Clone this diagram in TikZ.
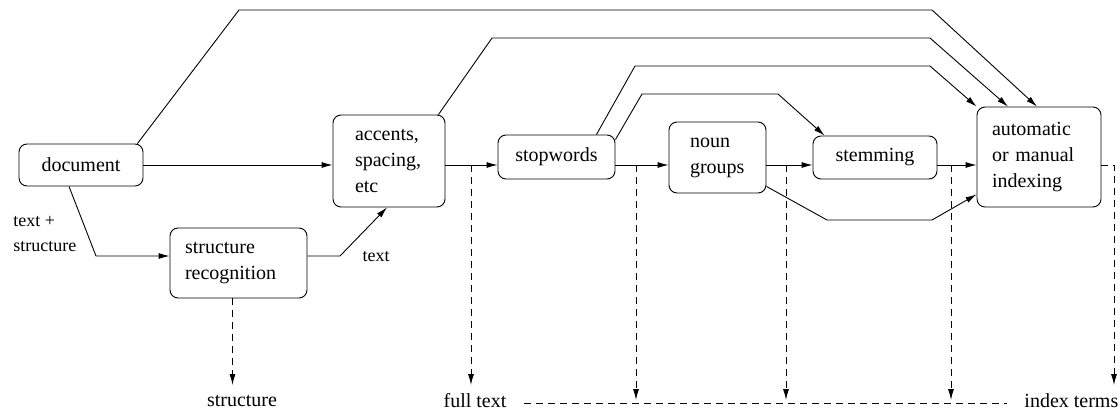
\documentclass[tikz,border=0pt]{standalone}
\usepackage{fontspec}
\setmainfont{Liberation Serif}
\usetikzlibrary{arrows.meta}
\begin{document}
\begin{tikzpicture}[x=1pt,y=-1pt, line width=0.9pt,
  box/.style={draw, rounded corners=8pt, font=\fontsize{20}{26}\selectfont, inner sep=0pt},
  arr/.style={-{Latex[length=11pt,width=6pt]}},
  darr/.style={arr, dash pattern=on 7pt off 5pt},
  lbl/.style={font=\fontsize{18}{25}\selectfont, inner sep=0pt},
  outlbl/.style={font=\fontsize{20}{24}\selectfont, inner sep=0pt}]
\useasboundingbox (0,0) rectangle (1120,412);
% boxes
\node[box, minimum width=124pt, minimum height=42pt] (doc) at (81,165) {document};
\node[box, minimum width=112pt, minimum height=92pt, align=left, text width=68pt, inner xsep=22pt] (acc) at (389,161) {accents,\\spacing,\\etc};
\node[box, minimum width=137pt, minimum height=70pt, align=left, text width=107pt, inner xsep=15pt] (str) at (238.5,263) {structure\\recognition};
\node[box, minimum width=117pt, minimum height=44pt] (stop) at (556.5,157) {stopwords};
\node[box, minimum width=97pt, minimum height=71pt, align=left, text width=55pt, inner xsep=21pt] (noun) at (717.5,157.5) {noun\\groups};
\node[box, minimum width=124pt, minimum height=43pt] (stem) at (875,157.5) {stemming};
\node[box, minimum width=124pt, minimum height=100pt, align=left, text width=94pt, inner xsep=15pt] (auto) at (1039,157) {automatic\\or manual\\indexing};
% labels
\node[lbl, anchor=west, align=left] (tslbl) at (13,234.5) {text +\\structure};
\node[lbl] (txtlbl) at (376,257) {text};
\node[outlbl] (oS) at (242,401) {structure};
\node[outlbl] (oF) at (475,401) {full text};
\node[outlbl, anchor=west] (oI) at (1024,401) {index terms};
% helper coordinates
\coordinate (lvl) at (0,165);
\coordinate (bot) at (0,385);
\coordinate (bot2) at (0,400);
\coordinate (j1) at (471,165);
\coordinate (j2) at (636,165);
\coordinate (j3) at (786,165);
\coordinate (j4) at (951,165);
\coordinate (j5) at (1114,165);
% main line
\draw[arr] (doc.east) -- (doc.east -| acc.west);
\draw[arr] (acc.east |- lvl) -- (stop.west |- lvl);
\draw[arr] (stop.east |- lvl) -- (noun.west |- lvl);
\draw[arr] (noun.east |- lvl) -- (stem.west |- lvl);
\draw[arr] (stem.east |- lvl) -- (auto.west |- lvl);
% structure branch
\draw[arr] ([xshift=-12pt]doc.south) -- (96,256) -- ([yshift=7pt]str.west);
\draw[arr] ([yshift=7pt]str.east) -- (340,256) -- ([xshift=-2pt]acc.south);
% bypass lines
\draw[arr] ([xshift=-6pt]doc.north east) -- (239,10) -- (932,10) -- ([xshift=-2pt]auto.north);
\draw[arr] ([xshift=-7pt]acc.north east) -- (492,38) -- (930,38) -- ([xshift=-31pt]auto.north);
\draw[arr] ([xshift=-19pt]stop.north east) -- (635,66) -- (930,66) -- (auto.north west);
\draw[arr] ([yshift=-5pt]stop.north east) -- (642,94) -- (778,94) -- ([xshift=12pt]stem.north west);
\draw[arr] ([yshift=7pt]noun.south east) -- (827,220) -- (932,220) -- ([yshift=13pt]auto.south west);
% dashed outputs
\draw[darr] ([xshift=-6pt]str.south) -- ([xshift=-6pt]str.south |- bot);
\draw[darr] (j1) -- (j1 |- bot);
\draw[darr] (j2) -- (j2 |- bot2);
\draw[darr] (j3) -- (j3 |- bot2);
\draw[darr] (j4) -- (j4 |- bot2);
\draw[darr] (auto.east |- lvl) -- (j5) -- (j5 |- bot);
\draw[dash pattern=on 7pt off 5pt] ([xshift=17pt]oF.east |- 0,403) -- ([xshift=-17pt]oI.west |- 0,403);
\end{tikzpicture}
\end{document}
